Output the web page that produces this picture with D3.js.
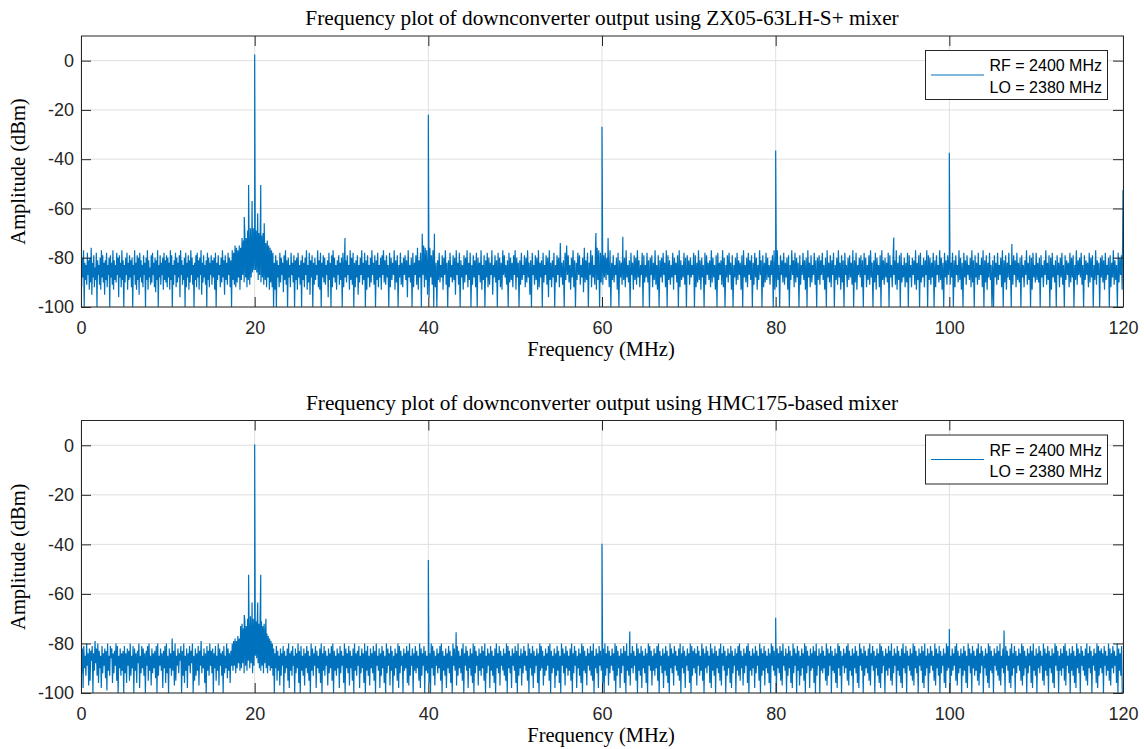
<!DOCTYPE html>
<meta charset="utf-8">
<title>Frequency plot of downconverter output</title>
<script src="https://d3js.org/d3.v7.min.js"></script>

<style>
  body {
    margin: 0;
    background-color: #ffffff;
  }

  .tick text {
    font: 18px "Liberation Sans", Arial, sans-serif;
    fill: #262626;
  }

  .domain {
    display: none;
  }

  .tick line {
    stroke: #262626;
  }

  .title,
  .label {
    font: 20.5px "Liberation Serif", "Times New Roman", serif;
    fill: #000;
    text-anchor: middle;
  }

  .title {
    font-size: 21.3px;
  }

  .legend text {
    font: 16px "Liberation Sans", Arial, sans-serif;
    fill: #000;
    text-anchor: end;
  }
</style>

<body>
  <svg width="1144" height="749"></svg>
</body>

<script>

  // axis ticks
  var xTicks = [0, 20, 40, 60, 80, 100, 120];
  var yTicks = [-100, -80, -60, -40, -20, 0];

  var titles = [
    "Frequency plot of downconverter output using ZX05-63LH-S+ mixer",
    "Frequency plot of downconverter output using HMC175-based mixer"
  ];
  var legendLines = ["RF = 2400 MHz", "LO = 2380 MHz"];

  // noise floor, one string per 5 MHz.
  // each letter is a level: A = -60 dBm, B = -61 dBm ... o = -100 dBm
  var levels = "ABCDEFGHIJKLMNOPQRSTUVWXYZabcdefghijklmnopqrstuvwxyz";

  var noiseTop = [
    "SgUcRoWdXfSbVhUeQjWcTgYdSoVbXfUhRcTeWjVdSgXbUoTcWfRhVdXeSbUkTcWgRdVo",
    "XeUbShWdTcVgUoXbRfWhTdUjScVeXgTbWoUdRhVcYfTeSbWgUiVdRoXcTfWbUhSdVeTg",
    "UcWhRdToXfVbSgUeWcTkRbVfXdUoSgWcThVeRbUfXoWdTgScVhUbRjWeTcXfVoSdUgWb",
    "TfVcUhSoWdTbXgUeRcVjTdWfSbUgVoRdSfPgQeRcPhQdMbNeKcMgJdLfIcKaIZ",
    "HZJaIdKbJeLcKfMdOgNcPhQeRgSoWhToVcXgSeUbWiTdRfVoUcXgSbWeToVdUh",
    "ScXfVoTdWgUbRhXeSjVcToWfUdXbRgVhSoWcTeUfXbVkSdWoTgRcUeXhVbTfWd",
    "UoSgWcVeTbXhRdUfSoWgVcTjXeUbRfWdSoVhTcXgUeRbWfToVdSgXcUhTbRe",
    "VfTcXoSgUdWbRhVeToXcSfWgUbTdVkRcXeUoSgWbTfQhVcSoRbPgQdRj",
    "SkQcTfRoUgWoVdSeXcThUbRfWoVgScXeTdUjRbWfSoVcXhTeUbRgWdSo",
    "XfTcVgSoUbWeRhXdToVcSgUfWbRjXcTeVoSdUgWhRbTcXfVoSeUdWgTb",
    "RhUcWoVfSdXbTgUeRcWjVoSbXfTdUhRgWcVoSeXbTfUkRdWgVcSoXeTb",
    "UgRcWfVoSdPbTeXhUcRgVoWdSbTfXcUiQeVdSoWbRgTcXfPhQdRoSe",
    "RfTcSdUbVgRoWdTeXbUhSoVcWfTdUgRcXeVoSbWhTdUfRcVgXbSoTe",
    "XcSeVoUbTgWdRfXhToVcUeSbWgRoTdVfXcShUbWeToRgVdXcSfUoTb",
    "VfUcXbSoTgWeRdVhUcXoSfTbWdVgReUcXhToSdWbVfRgUoXcTeSbWh",
    "ToXcUfSdVbWhToRcXeUgSbVdToWfScUhXdRbVoTgWeSdUcXfVbToRh",
    "UgRdXoTbVeSfWcUhToXdRbVgSeUcWoTfXbSdVhUoRcWgTeXbSfVoUd",
    "TfVbSdXhUoRcWeTgVbSoXdUfRcWhTeVoSbXgUdTcWfRoVeShXbUcTg",
    "VoSbUgXdTfRcWoVeShUbXgToRdVfUcWeSoTcXgUbVfRhWdToSeXcUg",
    "WeSoTcXgUbVfRhWdToSeXcUgVbRoTdUfWcSoVgTbXeRdUhWoScVfTb",
    "UfWcSoVgTbXeRdUhWoScVfTbXdUgReVoTcWfSdXbUgRoVeThWcSdXo",
    "VoTcWfSdXbUgRoVeThWcSdXoUfTbVgSdWeUoTcXgVbRfWdToUhScXe",
    "SdWeUoTcXgVbRfWdToUhScXeVoTbWgUcSfXoTdVbWgSeUcToXdRfVb",
    "UcSfXoTdVbWgSeUcToXdRfVbWoUcTeVhSdXbUoTgWcRfVdXoSeUbTh"
  ];

  var noiseBottom = [
    "XgWmVeZhUdYlWjXbVoYfTcWhUkXeZmVgYdWiXnUfZhVaWkYgXdUjVoZeWhYfXo",
    "VgYkWdXjUhZeVoWfYkXcUmZgVeWhYoXdVjUfZlWgYeXiVoUhZdWfYmXeVkUg",
    "ZoWeYhSfXlUjZdWgYbVoXhUkZfWmYdVgXcUoZjWhYfVlXdTgZeWkYoVfXhUd",
    "XgWoYeVjZfUlWdYhXoVgZeUiWfYkXdUfTdSgTeRcSfNeMcOgLdNfKbMeJcLgKd",
    "KZLaJcMeKfLdNgMcPeQgRdSfTeUhWoYeVjXfZlWhYdVoXgZeWjUmYfXhVdZoWgYe",
    "UkXoVfZhWlYeVgXjZoUfWhYdVmXeZgWkUoYfVhXdZlWgYeVjUoXfZhWeYmVg",
    "XdZkUoWeYgVlXeZjWoUfYhXdVmZgWeYkUoXfVhZlWeYgVjXoUdZfWmYhVeXk",
    "ZoUgWdYlVfXoZhWeYjUmVgXdZoWfYeVkXlUhZdWoYfVgXeZjUmWhYdVoXfZg",
    "WkYoUeVhXlZdWgYeVjUoXfZhWmYeVgXkZoUdWfYlVhXeZgWjUoYdVfXmZeWh",
    "YkUoVgXdZlWfYhVeXjUoZgWdYmVfXhZkWoUeYgVlXdZfWhYjUoVeXgZmWdYf",
    "VkXoUhZeWlYgVdXfZjUoWeYhVmXgZdWkYoUfVeXlZhWfYdVjUoXgZeWmYhVf",
    "XkZoUdWgYlVeXhZfWjUoYgVdXmZeWhYkUoVfXgZlWdYfVhXjUoZeWgYmVdXf",
    "ZkWoUhYeVlXgZdWfYjUoVhXeZmWgYdVkXoUfZhWlYeVgXdZjUoWfYhVmXeZg",
    "WkYoUdVfXlZfWhYeVjUoXdZgWmYfVhXkZoUeWgYlVdXfZhWjUoYeVgXmZdWf",
    "YkUoVhXeWgYlVdXhZfUjWoYeVgXdZkUmWfYhVoXeZgWjUlYdVfXoZhWeYkVm",
    "XgZdWoYfVhUjXeZlWgYdVkUoXfZhWeYmVgXdZjUoWhYfVlXeZgWkYoUdVfXh",
    "ZoWeYgVjXlUdZfWoYhVeXkZmUgWdYoVfXlZhWeYjUoVgXdZmWfYeVkXoUhZd",
    "WoYfVgXeZjUlWhYdVoXfZgWkYmUeVhXoZdWgYeVjUlXfZhWoYeVgXkZmUdWf",
    "YoVhXeZgWjUlYdVfXoZeWhYkUmVgXdZoWfYhVeXjUlZgWdYoVfXhZkWmUeYg",
    "VoXdZfWhYjUlVeXgZoWdYfVkXmUhZeWoYgVdXfZjUlWeYhVoXgZdWkYmUfVe",
    "XoZhWfYdVjUlXgZeWoYhVfXkZmUdWgYoVeXhZfWjUlYgVdXoZeWhYkUmVfXg",
    "ZoWdYfVhXjUlZeWgYoVdXfZkWmUhYeVoXgZdWfYjUlVhXeZoWgYdVkXmUfZh",
    "WoYeVgXdZjUlWfYhVoXeZgWkYmUdVfXoZfWhYeVjUlXdZgWoYfVhXkZmUeWg",
    "YoVdXfZhWjUlYeVgXoZdWfYkUmVhXeWgYoVdXhZfUjWlYeVgXdZkUoWfYhVo"
  ];

  // spectral lines [MHz, dBm]
  var peaksTop = [
    [0, -72], [18.8, -63.5], [19.3, -50.5], [19.7, -57], [20, 2.5], [20.35, -62],
    [20.7, -50.5], [21.1, -66], [30.4, -72], [39.3, -70.3], [40, -22], [40.7, -70.3],
    [55.2, -74], [59.3, -70], [60, -26.8], [60.7, -72], [62.4, -71.5], [80, -36.5],
    [93.6, -71.8], [100, -37.4], [107.2, -74.4], [120, -52.5]
  ];

  var peaksBottom = [
    [0, -53], [18.8, -68.5], [19.3, -52.3], [19.7, -63.5], [20, 0.3], [20.35, -63.5],
    [20.7, -52.3], [21.3, -70], [40, -46.3], [43.2, -75.5], [60, -39.8], [63.2, -75.2],
    [80, -69.6], [100, -74.2], [106.3, -74.8]
  ];

  var segMHz = 5;

  function buildSeries(codes, peaks) {
    var pts = [];
    codes.forEach(function (s, k) {
      for (var j = 0; j < s.length; j++) {
        pts.push({ f: k * segMHz + j * segMHz / s.length, db: -60 - levels.indexOf(s[j]) });
      }
    });
    peaks.forEach(function (p) { pts.push({ f: p[0], db: p[1] }); });
    pts.sort(function (a, b) { return a.f - b.f; });
    return pts;
  }

  var svg = d3.select("svg");
  var left = 81, right = 1123;

  var panels = [
    { top: 36, bottom: 307, title: titles[0], data: buildSeries(noiseTop, peaksTop) },
    { top: 420.5, bottom: 693, title: titles[1], data: buildSeries(noiseBottom, peaksBottom) }
  ];

  panels.forEach(function (p, i) {
    var x = d3.scaleLinear().domain([0, 120]).range([left, right]);
    var y = d3.scaleLinear().domain([-100, 10]).range([p.bottom, p.top]);
    var g = svg.append("g");

    // grid
    g.append("g").selectAll("line").data(xTicks).enter().append("line")
      .attr("x1", function (d) { return x(d); }).attr("x2", function (d) { return x(d); })
      .attr("y1", p.top).attr("y2", p.bottom)
      .attr("stroke", "#dfdfdf");
    g.append("g").selectAll("line").data(yTicks).enter().append("line")
      .attr("x1", left).attr("x2", right)
      .attr("y1", function (d) { return y(d); }).attr("y2", function (d) { return y(d); })
      .attr("stroke", "#dfdfdf");

    // trace
    g.append("clipPath").attr("id", "clip" + i)
      .append("rect").attr("x", left).attr("y", p.top)
      .attr("width", right - left).attr("height", p.bottom - p.top);

    var line = d3.line()
      .x(function (d) { return x(d.f); })
      .y(function (d) { return y(Math.max(d.db, -100)); });

    g.append("path")
      .datum(p.data)
      .attr("clip-path", "url(#clip" + i + ")")
      .attr("fill", "none")
      .attr("stroke", "#0072BD")
      .attr("stroke-width", 1.2)
      .attr("d", line);

    // axes, ticks pointing in
    var plain = function (d) { return String(d); };
    g.append("g").attr("transform", "translate(0," + p.bottom + ")")
      .call(d3.axisBottom(x).tickValues(xTicks).tickSize(-10).tickPadding(14).tickFormat(plain));
    g.append("g").attr("transform", "translate(0," + p.top + ")")
      .call(d3.axisTop(x).tickValues(xTicks).tickSize(-10).tickFormat(""));
    g.append("g").attr("transform", "translate(" + left + ",0)")
      .call(d3.axisLeft(y).tickValues(yTicks).tickSize(-10).tickPadding(7).tickFormat(plain));
    g.append("g").attr("transform", "translate(" + right + ",0)")
      .call(d3.axisRight(y).tickValues(yTicks).tickSize(-10).tickFormat(""));

    g.append("rect")
      .attr("x", left + 0.5).attr("y", p.top)
      .attr("width", right - left).attr("height", p.bottom - p.top)
      .attr("fill", "none").attr("stroke", "#262626");

    // labels
    g.append("text").attr("class", "title")
      .attr("x", 602).attr("y", p.top - 11)
      .text(p.title);
    g.append("text").attr("class", "label")
      .attr("x", 601).attr("y", p.bottom + 49)
      .text("Frequency (MHz)");
    g.append("text").attr("class", "label")
      .attr("transform", "translate(24.5," + (p.top + p.bottom) / 2 + ") rotate(-90)")
      .text("Amplitude (dBm)");

    // legend
    var lg = g.append("g").attr("class", "legend");
    lg.append("rect")
      .attr("x", 925.5).attr("y", p.top + 14.5)
      .attr("width", 182).attr("height", 49)
      .attr("fill", "#fff").attr("stroke", "#262626");
    lg.append("line")
      .attr("x1", 931).attr("x2", 984)
      .attr("y1", p.top + 39).attr("y2", p.top + 39)
      .attr("stroke", "#0072BD");
    lg.selectAll("text").data(legendLines).enter().append("text")
      .attr("x", 1102)
      .attr("y", function (d, k) { return p.top + 35 + k * 21.7; })
      .text(function (d) { return d; });
  });

</script>
